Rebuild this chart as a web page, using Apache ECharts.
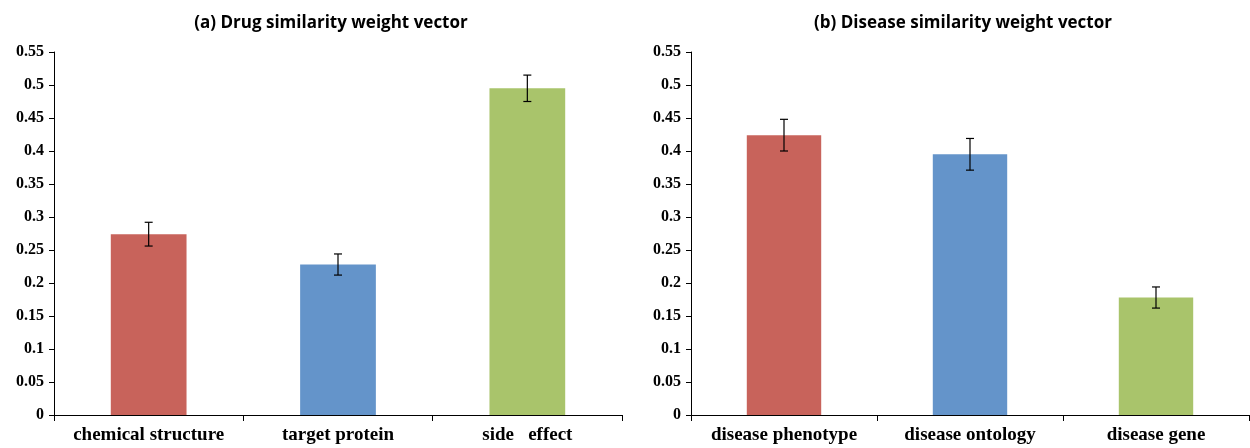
<!DOCTYPE html>
<html>
<head>
<meta charset="utf-8">
<script src="https://cdn.jsdelivr.net/npm/echarts@6/dist/echarts.min.js"></script>
<style>
  html, body { margin: 0; padding: 0; background: #fff; }
  #chart { width: 1250px; height: 448px; }
</style>
</head>
<body>
<div id="chart"></div>
<script>
// Drug similarity weights (panel a)
const drugCategories = ['chemical structure', 'target protein', 'side   effect'];
const drugWeights = [0.274, 0.228, 0.495];
const drugErrors = [0.018, 0.016, 0.020];

// Disease similarity weights (panel b)
const diseaseCategories = ['disease phenotype', 'disease ontology', 'disease gene'];
const diseaseWeights = [0.424, 0.395, 0.178];
const diseaseErrors = [0.024, 0.024, 0.016];

const barColors = ['#C8635B', '#6494CA', '#A9C46B'];
const titles = ['(a) Drug similarity weight vector', '(b) Disease similarity weight vector'];

const chart = echarts.init(document.getElementById('chart'));

const serif = '"Liberation Serif", "Times New Roman", serif';

function yAxisFor(gridIndex) {
  return {
    type: 'value', gridIndex, min: 0, max: 0.55, interval: 0.05,
    axisLine: { show: true, lineStyle: { color: '#000', width: 1 } },
    axisTick: { show: true, inside: false, length: 5, lineStyle: { color: '#000' } },
    splitLine: { show: false },
    axisLabel: { color: '#000', fontFamily: serif, fontWeight: 'bold', fontSize: 16, margin: 10 }
  };
}

function xAxisFor(gridIndex, cats) {
  return {
    type: 'category', gridIndex, data: cats, boundaryGap: true,
    axisLine: { show: true, lineStyle: { color: '#000', width: 1 } },
    axisTick: { show: true, interval: 0, alignWithLabel: false, length: 6, lineStyle: { color: '#000' } },
    axisLabel: {
      interval: 0, hideOverlap: false,
      color: '#000', fontFamily: serif, fontWeight: 'bold', fontSize: 19, margin: 11
    }
  };
}

function barSeries(idx, values) {
  return {
    type: 'bar', xAxisIndex: idx, yAxisIndex: idx, barWidth: '40%',
    data: values.map((v, i) => ({ value: v, itemStyle: { color: barColors[i] } })),
    z: 2
  };
}

function errorSeries(idx, values, errs) {
  return {
    type: 'custom', xAxisIndex: idx, yAxisIndex: idx, z: 3,
    data: values.map((v, i) => [i, v - errs[i], v + errs[i]]),
    renderItem: function (params, api) {
      const lo = api.coord([api.value(0), api.value(1)]);
      const hi = api.coord([api.value(0), api.value(2)]);
      const w = 4;
      const style = { stroke: '#000', lineWidth: 1.2 };
      return {
        type: 'group',
        children: [
          { type: 'line', shape: { x1: lo[0], y1: lo[1], x2: hi[0], y2: hi[1] }, style },
          { type: 'line', shape: { x1: hi[0] - w, y1: hi[1], x2: hi[0] + w, y2: hi[1] }, style },
          { type: 'line', shape: { x1: lo[0] - w, y1: lo[1], x2: lo[0] + w, y2: lo[1] }, style }
        ]
      };
    }
  };
}

const titleStyle = { fontFamily: '"Open Sans", sans-serif', fontWeight: 'bold', fontSize: 17, color: '#000' };

chart.setOption({
  animation: false,
  backgroundColor: '#fff',
  title: [
    { text: titles[0], left: 326, top: 10, textAlign: 'center', textStyle: titleStyle },
    { text: titles[1], left: 958, top: 10, textAlign: 'center', textStyle: titleStyle }
  ],
  grid: [
    { left: 54, right: 628, top: 52, bottom: 33 },
    { left: 691, right: 1, top: 52, bottom: 33 }
  ],
  xAxis: [xAxisFor(0, drugCategories), xAxisFor(1, diseaseCategories)],
  yAxis: [yAxisFor(0), yAxisFor(1)],
  series: [
    barSeries(0, drugWeights),
    errorSeries(0, drugWeights, drugErrors),
    barSeries(1, diseaseWeights),
    errorSeries(1, diseaseWeights, diseaseErrors)
  ]
});
</script>
</body>
</html>
